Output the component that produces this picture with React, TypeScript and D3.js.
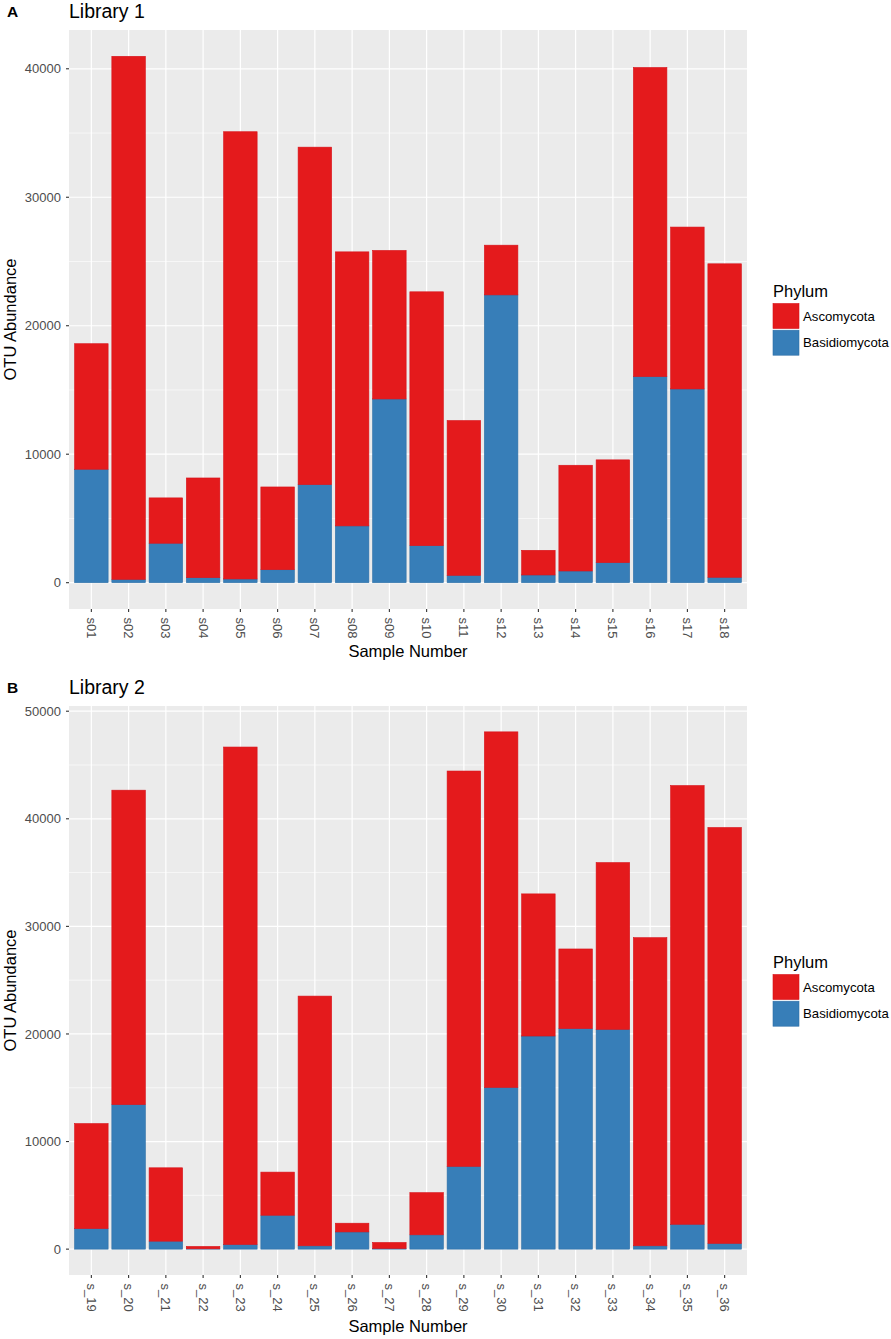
import * as d3 from 'd3';

// Library 1 (panel A)
const libOneSamples = ['s01', 's02', 's03', 's04', 's05', 's06', 's07', 's08', 's09', 's10', 's11', 's12', 's13', 's14', 's15', 's16', 's17', 's18'];
const libOneAsco = [9770, 40710, 3530, 7760, 34810, 6440, 26270, 21330, 11560, 19760, 12050, 3870, 1920, 8230, 8000, 24060, 12600, 24400];
const libOneBasidio = [8830, 260, 3070, 390, 290, 1010, 7630, 4420, 14300, 2880, 570, 22400, 600, 910, 1560, 16040, 15080, 420];

// Library 2 (panel B)
const libTwoSamples = ['s_19', 's_20', 's_21', 's_22', 's_23', 's_24', 's_25', 's_26', 's_27', 's_28', 's_29', 's_30', 's_31', 's_32', 's_33', 's_34', 's_35', 's_36'];
const libTwoAsco = [9760, 29230, 6820, 220, 46240, 4010, 23210, 810, 560, 3920, 36750, 33050, 13210, 7400, 15500, 28640, 40780, 38660];
const libTwoBasidio = [1910, 13430, 740, 30, 430, 3150, 310, 1600, 60, 1330, 7690, 15030, 19810, 20500, 20430, 310, 2310, 530];

const phyla = ['Ascomycota', 'Basidiomycota'];
const phylumColors: Record<string, string> = { Ascomycota: '#E41A1C', Basidiomycota: '#377EB8' };
const phylumStroke: Record<string, string> = { Ascomycota: '#D8121A', Basidiomycota: '#2E6FA6' };

const FONT = '"Liberation Sans", Arial, Helvetica, sans-serif';

interface PanelProps {
  letter: string;
  title: string;
  samples: string[];
  asco: number[];
  basidio: number[];
  top: number;
  bottom: number;
  xTitleGap: number;
}

const left = 69;
const right = 747;

const Panel = ({ letter, title, samples, asco, basidio, top, bottom, xTitleGap }: PanelProps) => {
  const rows = samples.map((s, i) => ({ sample: s, Ascomycota: asco[i], Basidiomycota: basidio[i] }));
  // blue goes on the bottom of each bar
  const stacked = d3.stack<any>().keys(['Basidiomycota', 'Ascomycota'])(rows);
  const maxTotal = d3.max(rows, r => r.Ascomycota + r.Basidiomycota) as number;

  const x = d3.scaleBand<string>().domain(samples).range([left, right]).paddingInner(0.1).paddingOuter(0.15);
  const y = d3.scaleLinear().domain([-0.05 * maxTotal, 1.05 * maxTotal]).range([bottom, top]);

  const majors = d3.range(0, 1.05 * maxTotal, 10000);
  const minors = d3.range(5000, 1.05 * maxTotal, 10000);
  const half = x.bandwidth() / 2;
  const midY = (top + bottom) / 2;
  const legendTop = midY - 36;

  return (
    <g>
      <text x={7} y={top - 13} fontFamily={FONT} fontWeight="bold" fontSize={15.5} fill="#000">{letter}</text>
      <text x={left} y={top - 12} fontFamily={FONT} fontSize={19.5} fill="#000">{title}</text>

      <rect x={left} y={top} width={right - left} height={bottom - top} fill="#EBEBEB" />
      {minors.map(v => (
        <line key={'mn' + v} x1={left} x2={right} y1={y(v)} y2={y(v)} stroke="#FFFFFF" strokeWidth={0.6} />
      ))}
      {majors.map(v => (
        <line key={'mj' + v} x1={left} x2={right} y1={y(v)} y2={y(v)} stroke="#FFFFFF" strokeWidth={1.2} />
      ))}
      {samples.map(s => (
        <line key={'vg' + s} x1={(x(s) as number) + half} x2={(x(s) as number) + half} y1={top} y2={bottom} stroke="#FFFFFF" strokeWidth={1.2} />
      ))}

      {stacked.map(series => (
        <g key={series.key}>
          {series.map((d, i) => (
            <rect
              key={samples[i]}
              x={x(samples[i]) as number}
              width={x.bandwidth()}
              y={y(d[1])}
              height={Math.max(0, y(d[0]) - y(d[1]))}
              fill={phylumColors[series.key]}
              stroke={phylumStroke[series.key]}
              strokeWidth={0.6}
            />
          ))}
        </g>
      ))}

      {majors.map(v => (
        <g key={'yt' + v}>
          <line x1={left - 3} x2={left} y1={y(v)} y2={y(v)} stroke="#333333" strokeWidth={1.1} />
          <text x={left - 8} y={y(v)} dy="0.35em" textAnchor="end" fontFamily={FONT} fontSize={13} fill="#4D4D4D">{v}</text>
        </g>
      ))}
      {samples.map(s => {
        const cx = (x(s) as number) + half;
        return (
          <g key={'xt' + s}>
            <line x1={cx} x2={cx} y1={bottom} y2={bottom + 3} stroke="#333333" strokeWidth={1.1} />
            <text transform={`translate(${cx},${bottom + 8.5}) rotate(90)`} dy="0.35em" textAnchor="start" fontFamily={FONT} fontSize={13} fill="#4D4D4D">{s}</text>
          </g>
        );
      })}

      <text x={(left + right) / 2} y={bottom + xTitleGap} textAnchor="middle" fontFamily={FONT} fontSize={16.5} fill="#000">Sample Number</text>
      <text transform={`translate(16,${midY}) rotate(-90)`} textAnchor="middle" fontFamily={FONT} fontSize={16.5} fill="#000">OTU Abundance</text>

      <text x={773} y={legendTop + 13.5} fontFamily={FONT} fontSize={16.5} fill="#000">Phylum</text>
      {phyla.map((p, i) => (
        <g key={'lg' + p}>
          <rect x={773} y={legendTop + 20 + i * 26.7} width={26} height={25} fill={phylumColors[p]} stroke={phylumStroke[p]} strokeWidth={0.6} />
          <text x={803} y={legendTop + 32.5 + i * 26.7} dy="0.35em" fontFamily={FONT} fontSize={13.2} fill="#000">{p}</text>
        </g>
      ))}
    </g>
  );
};

export default function App() {
  return (
    <svg width={891} height={1339} style={{ position: 'absolute', left: 0, top: 0, background: '#fff' }}>
      <rect width={891} height={1339} fill="#fff" />
      <Panel letter="A" title="Library 1" samples={libOneSamples} asco={libOneAsco} basidio={libOneBasidio} top={30} bottom={609} xTitleGap={48} />
      <Panel letter="B" title="Library 2" samples={libTwoSamples} asco={libTwoAsco} basidio={libTwoBasidio} top={706} bottom={1275} xTitleGap={57} />
    </svg>
  );
}
